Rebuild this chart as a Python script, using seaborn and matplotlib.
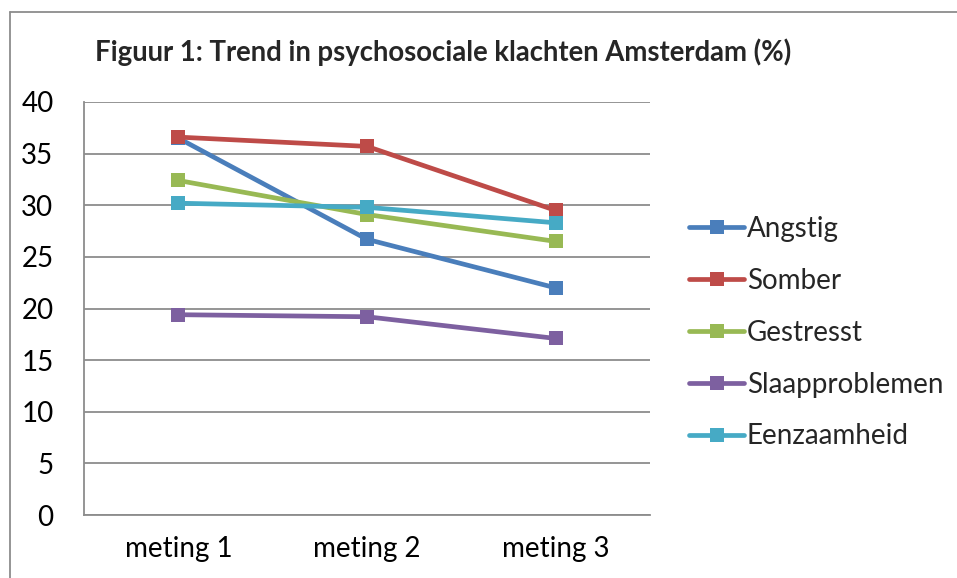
import matplotlib
matplotlib.use("Agg")
import matplotlib.pyplot as plt
import seaborn as sns
import pandas as pd
from matplotlib.lines import Line2D

# Data
metingen = ["meting 1", "meting 2", "meting 3"]
angstig = [36.5, 26.7, 22.0]
somber = [36.6, 35.7, 29.5]
gestresst = [32.4, 29.1, 26.5]
slaapproblemen = [19.4, 19.2, 17.1]
eenzaamheid = [30.2, 29.8, 28.3]

series = {
    "Angstig": angstig,
    "Somber": somber,
    "Gestresst": gestresst,
    "Slaapproblemen": slaapproblemen,
    "Eenzaamheid": eenzaamheid,
}
colors = ["#4A7EBB", "#BE4B48", "#98B954", "#7D60A0", "#46AAC5"]

rows = []
for name, vals in series.items():
    for i, v in enumerate(vals):
        rows.append({"meting": i, "label": metingen[i], "klacht": name, "waarde": v})
df = pd.DataFrame(rows)

sns.set_theme(style="white")
plt.rcParams["font.family"] = ["Lato", "DejaVu Sans"]

fig = plt.figure(figsize=(9.57, 5.78), dpi=100)
ax = fig.add_axes([84 / 957, 1 - 515 / 578, (650 - 84) / 957, (515 - 102) / 578])

sns.lineplot(data=df, x="meting", y="waarde", hue="klacht", palette=colors,
             marker="s", markersize=10, markeredgewidth=0, linewidth=3.4,
             dashes=False, ax=ax, legend=False)

ax.set_xlim(-0.5, 2.5)
ax.set_ylim(0, 40)
ax.set_yticks(range(0, 41, 5))
ax.set_xticks(range(len(metingen)))
ax.set_xticklabels(metingen)
ax.set_xlabel("")
ax.set_ylabel("")
ax.grid(axis="y", color="#8C8C8C", linewidth=1.3)
ax.set_axisbelow(True)
for side in ["top", "right"]:
    ax.spines[side].set_visible(False)
for side in ["left", "bottom"]:
    ax.spines[side].set_color("#8C8C8C")
    ax.spines[side].set_linewidth(1.3)
ax.tick_params(axis="y", labelsize=20, length=3, color="#8C8C8C", pad=19, labelcolor="black")
ax.tick_params(axis="x", labelsize=20, length=0, pad=15, labelcolor="black")

# legend
handles = [Line2D([0], [0], color=c, linewidth=3.4, marker="s", markersize=10,
                  markeredgewidth=0) for c in colors]
fig.legend(handles, list(series.keys()), loc="upper left",
           bbox_to_anchor=(689 / 957, 1 - 216 / 578), frameon=False,
           fontsize=20, handlelength=1.98, handletextpad=0.1,
           labelspacing=0.93, borderaxespad=0, borderpad=0)

fig.text(95 / 957, 1 - 52 / 578, "Figuur 1: Trend in psychosociale klachten Amsterdam (%)",
         fontsize=19.8, fontweight="bold", va="center", ha="left")

# outer chart border (top and left visible)
fig.add_artist(Line2D([10 / 957, 1], [1 - 12 / 578, 1 - 12 / 578],
                      transform=fig.transFigure, color="#8C8C8C", linewidth=1.3))
fig.add_artist(Line2D([10 / 957, 10 / 957], [0, 1 - 12 / 578],
                      transform=fig.transFigure, color="#8C8C8C", linewidth=1.3))

fig.savefig("out.png", dpi=100)
